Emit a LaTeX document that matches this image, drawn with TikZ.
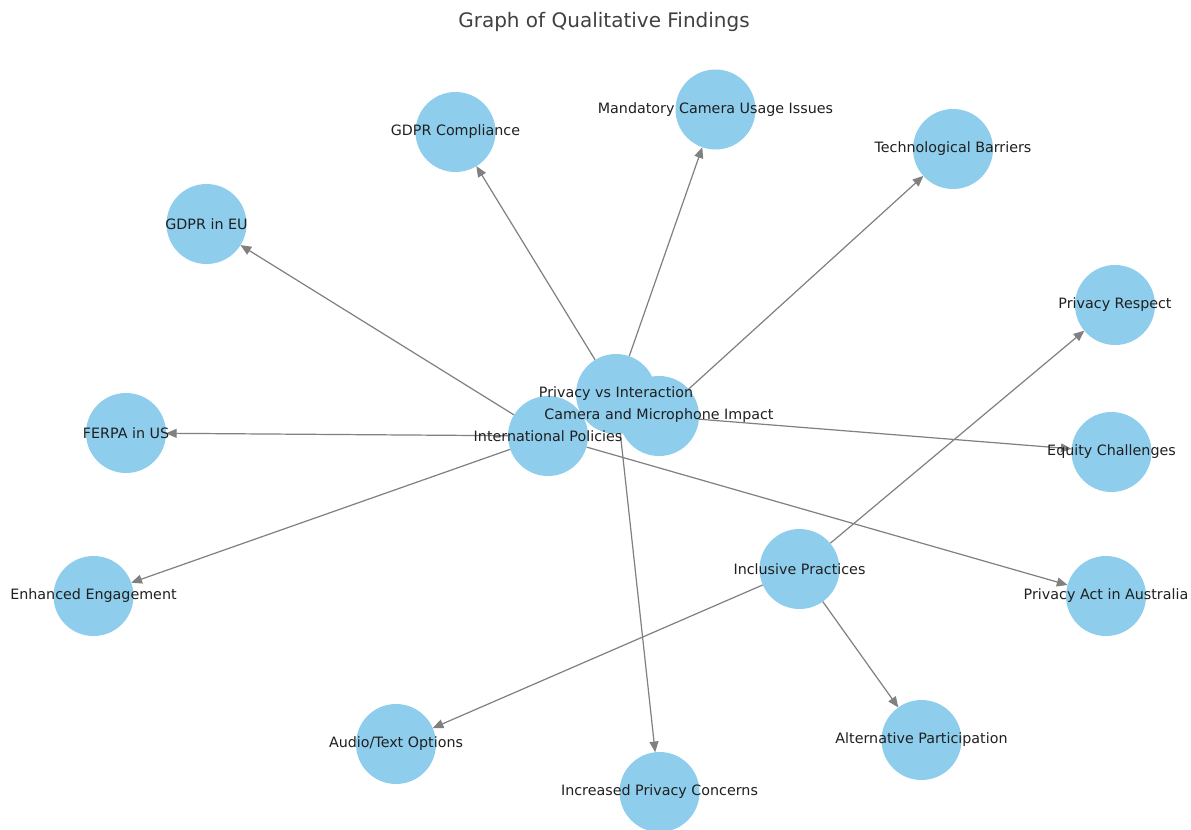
\documentclass[tikz,border=0pt]{standalone}
\usepackage{fontspec}
\setmainfont{DejaVu Sans}
\usepackage{xcolor}
\usepackage{tikz}
\usetikzlibrary{arrows.meta,backgrounds}
\definecolor{skyblue}{RGB}{142,205,236}
\definecolor{edgegray}{RGB}{128,128,128}
\definecolor{titlegray}{RGB}{64,64,64}
\tikzstyle{topic}= [circle, fill=skyblue, inner sep=0pt, outer sep=0pt, minimum size=56pt]
\tikzstyle{txt}= [font=\fontsize{10}{12}\selectfont, text=black!88, inner sep=0pt]
\tikzstyle{arr}= [color=edgegray, line width=0.85pt, -{Triangle[length=7.5pt,width=6.3pt]}]

\begin{document}
\begin{tikzpicture}[x=0.7pt,y=-0.7pt]
	\useasboundingbox (0,0) rectangle (1191,829);
	\node[font=\fontsize{14}{16}\selectfont, text=titlegray] at (604,22) (title) {Graph of Qualitative Findings};
	% circles
	\node[topic] at (455.5,132) (gdprc) {};
	\node[topic] at (715.5,109.5) (mcui) {};
	\node[topic] at (953,149) (tb) {};
	\node[topic] at (206.5,224) (gdpreu) {};
	\node[topic] at (1115,305) (pr) {};
	\node[topic] at (616,394) (pvi) {};
	\node[topic] at (659,416) (cmi) {};
	\node[topic] at (548,436) (ip) {};
	\node[topic] at (126,433) (ferpa) {};
	\node[topic] at (1111.5,452) (eq) {};
	\node[topic] at (93.5,596) (ee) {};
	\node[topic] at (799.5,569) (incl) {};
	\node[topic] at (1106,596) (paa) {};
	\node[topic] at (396,744) (ato) {};
	\node[topic] at (921.5,740) (ap) {};
	\node[topic] at (659.5,792) (ipc) {};
	% edges under the circles
	\begin{scope}[on background layer]
		\path[arr] (pvi) edge (gdprc) edge (mcui) edge (ipc) (cmi) edge (tb) edge (eq) (ip) edge (gdpreu) edge (ferpa) edge (ee) edge (paa) (incl) edge (pr) edge (ato) edge (ap);
	\end{scope}
	% labels on top
	\node[txt] at (gdprc) (gdprc-t) {GDPR Compliance};
	\node[txt] at (mcui) (mcui-t) {Mandatory Camera Usage Issues};
	\node[txt] at (tb) (tb-t) {Technological Barriers};
	\node[txt] at (gdpreu) (gdpreu-t) {GDPR in EU};
	\node[txt] at (pr) (pr-t) {Privacy Respect};
	\node[txt] at (pvi) (pvi-t) {Privacy vs Interaction};
	\node[txt] at (cmi) (cmi-t) {Camera and Microphone Impact};
	\node[txt] at (ip) (ip-t) {International Policies};
	\node[txt] at (ferpa) (ferpa-t) {FERPA in US};
	\node[txt] at (eq) (eq-t) {Equity Challenges};
	\node[txt] at (ee) (ee-t) {Enhanced Engagement};
	\node[txt] at (incl) (incl-t) {Inclusive Practices};
	\node[txt] at (paa) (paa-t) {Privacy Act in Australia};
	\node[txt] at (ato) (ato-t) {Audio/Text Options};
	\node[txt] at (ap) (ap-t) {Alternative Participation};
	\node[txt] at (ipc) (ipc-t) {Increased Privacy Concerns};
\end{tikzpicture}
\end{document}
